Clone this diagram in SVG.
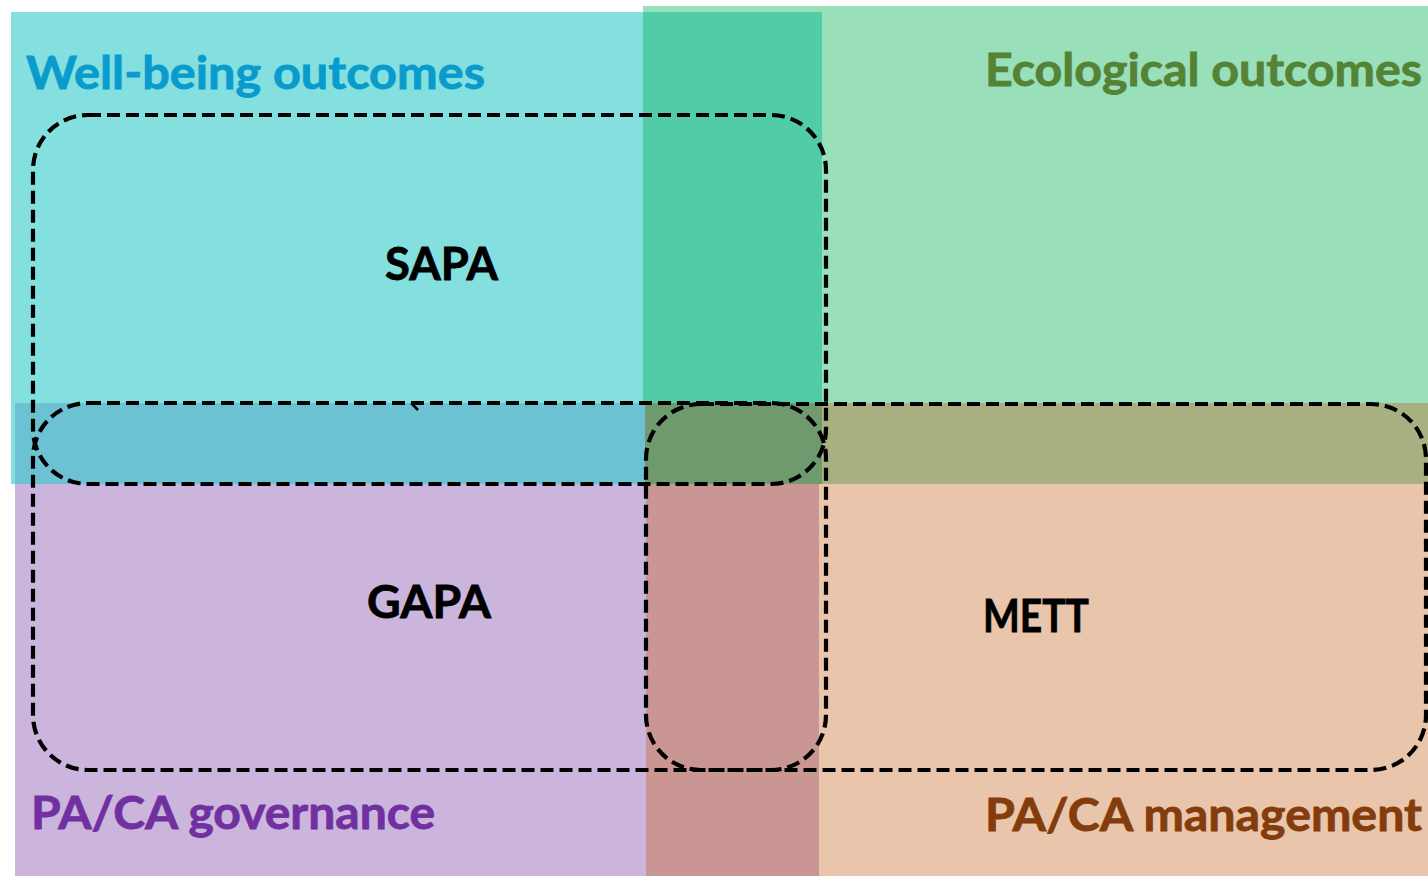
<svg xmlns="http://www.w3.org/2000/svg" width="1428" height="876" viewBox="0 0 1428 876">
  <style>
    .lbl { font-family: Lato, "Open Sans", "Liberation Sans", sans-serif; font-weight: bold; font-size: 46px; }
    .box { fill: none; stroke: #000; stroke-width: 4.2; stroke-dasharray: 13 6; }
  </style>
  <rect width="1428" height="876" fill="#ffffff"/>
  <g id="areas">
    <rect x="643" y="6" width="785" height="478" fill="#99DFBA"/>
    <rect x="11" y="12" width="811" height="472" fill="#84DFDF"/>
    <rect x="643" y="12" width="179" height="391" fill="#52CBA7"/>
    <rect x="822" y="403" width="606" height="81" fill="#A8B081"/>
    <rect x="15" y="403" width="630" height="81" fill="#6CC2D2"/>
    <rect x="645" y="403" width="177" height="81" fill="#6E9A6D"/>
    <rect x="15" y="484" width="631" height="392" fill="#CBB5DD"/>
    <rect x="646" y="484" width="173" height="392" fill="#C99694"/>
    <rect x="819" y="484" width="609" height="392" fill="#E9C5AB"/>
  </g>
  <g id="area-labels" class="lbl">
    <text x="26" y="89" fill="#0A9BCD" stroke="#0A9BCD" stroke-width="0.8" textLength="459" lengthAdjust="spacingAndGlyphs">Well-being outcomes</text>
    <text x="985" y="86" fill="#558335" stroke="#558335" stroke-width="0.8" textLength="437" lengthAdjust="spacingAndGlyphs">Ecological outcomes</text>
    <text x="31" y="829" fill="#7030A0" stroke="#7030A0" stroke-width="0.8" textLength="404" lengthAdjust="spacingAndGlyphs">PA/CA governance</text>
    <text x="985" y="831" fill="#843C0C" stroke="#843C0C" stroke-width="0.8" textLength="437" lengthAdjust="spacingAndGlyphs">PA/CA management</text>
  </g>
  <g id="SAPA">
    <rect class="box" x="33" y="115" width="793" height="369" rx="55" ry="55"/>
    <text class="lbl" x="385" y="280" fill="#000" stroke="#000" stroke-width="0.8" textLength="113" lengthAdjust="spacingAndGlyphs">SAPA</text>
  </g>
  <g id="GAPA">
    <rect class="box" x="33" y="403" width="793" height="367" rx="55" ry="55"/>
    <text class="lbl" x="367" y="618" fill="#000" stroke="#000" stroke-width="0.8" textLength="124" lengthAdjust="spacingAndGlyphs">GAPA</text>
  </g>
  <g id="METT">
    <rect class="box" x="646" y="404" width="780" height="366" rx="55" ry="55"/>
    <text class="lbl" x="983" y="632" fill="#000" stroke="#000" stroke-width="0.8" textLength="106" lengthAdjust="spacingAndGlyphs">METT</text>
  </g>
  <g id="connectors">
    <line x1="411" y1="403" x2="418" y2="410" stroke="#000" stroke-width="2.5"/>
  </g>
</svg>
